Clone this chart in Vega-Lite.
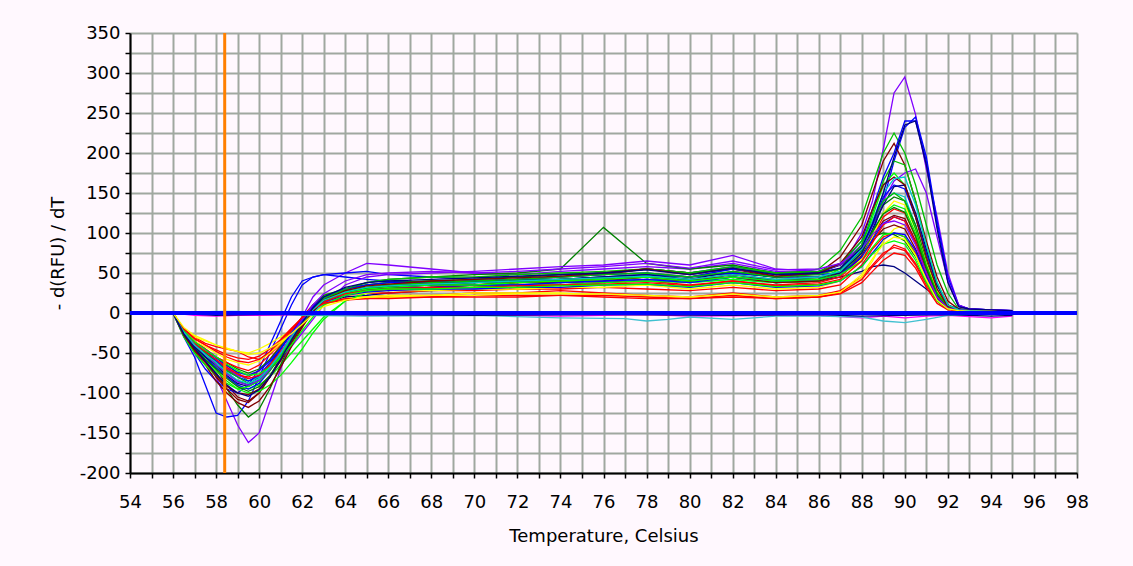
{
"$schema": "https://vega.github.io/schema/vega-lite/v6.json",
"width": 947, "height": 440,
"autosize": "none",
"padding": {"left": 130, "top": 33, "right": 56, "bottom": 93},
"background": "#FFF8FE",
"config": {"view": {"stroke": null},
 "axis": {"domainColor": "#000000", "domainWidth": 2, "tickColor": "#000000", "tickWidth": 1.5, "tickSize": 5,
  "labelFont": "DejaVu Sans", "labelFontSize": 18, "labelColor": "#000000", "titleFont": "DejaVu Sans", "titleFontSize": 18,
  "titleFontWeight": "normal", "titleColor": "#000000", "gridColor": "#A0A8A0", "gridWidth": 2, "gridOpacity": 1, "labelOverlap": false, "labelFlush": false}},
"datasets": {"curves": [
{"s":"A","t":56,"v":0},{"s":"A","t":56.5,"v":-25},{"s":"A","t":57,"v":-45},{"s":"A","t":57.5,"v":-60},{"s":"A","t":58,"v":-80},{"s":"A","t":58.5,"v":-110},{"s":"A","t":59,"v":-140},{"s":"A","t":59.5,"v":-162},{"s":"A","t":60,"v":-150},{"s":"A","t":60.5,"v":-110},{"s":"A","t":61,"v":-70},{"s":"A","t":61.5,"v":-35},{"s":"A","t":62,"v":-5},{"s":"A","t":62.5,"v":20},{"s":"A","t":63,"v":35},{"s":"A","t":64,"v":50},{"s":"A","t":65,"v":62},{"s":"A","t":66,"v":60},{"s":"A","t":68,"v":55},{"s":"A","t":70,"v":50},{"s":"A","t":72,"v":48},{"s":"A","t":74,"v":52},{"s":"A","t":76,"v":55},{"s":"A","t":78,"v":58},{"s":"A","t":80,"v":55},{"s":"A","t":82,"v":62},{"s":"A","t":84,"v":52},{"s":"A","t":86,"v":50},{"s":"A","t":87,"v":55},{"s":"A","t":88,"v":100},{"s":"A","t":88.5,"v":140},{"s":"A","t":89,"v":205},{"s":"A","t":89.5,"v":275},{"s":"A","t":90,"v":295},{"s":"A","t":90.5,"v":248},{"s":"A","t":91,"v":180},{"s":"A","t":91.5,"v":120},{"s":"A","t":92,"v":50},{"s":"A","t":92.5,"v":10},{"s":"A","t":93,"v":5},{"s":"A","t":94,"v":4},{"s":"A","t":95,"v":3},
{"s":"B","t":56,"v":0},{"s":"B","t":56.5,"v":-30},{"s":"B","t":57,"v":-55},{"s":"B","t":57.5,"v":-90},{"s":"B","t":58,"v":-125},{"s":"B","t":58.5,"v":-130},{"s":"B","t":59,"v":-128},{"s":"B","t":59.5,"v":-110},{"s":"B","t":60,"v":-80},{"s":"B","t":60.5,"v":-50},{"s":"B","t":61,"v":-20},{"s":"B","t":61.5,"v":10},{"s":"B","t":62,"v":35},{"s":"B","t":62.5,"v":45},{"s":"B","t":63,"v":48},{"s":"B","t":64,"v":50},{"s":"B","t":65,"v":52},{"s":"B","t":66,"v":48},{"s":"B","t":68,"v":45},{"s":"B","t":70,"v":42},{"s":"B","t":72,"v":45},{"s":"B","t":74,"v":48},{"s":"B","t":76,"v":50},{"s":"B","t":78,"v":55},{"s":"B","t":80,"v":50},{"s":"B","t":82,"v":58},{"s":"B","t":84,"v":50},{"s":"B","t":86,"v":48},{"s":"B","t":87,"v":50},{"s":"B","t":88,"v":75},{"s":"B","t":88.5,"v":100},{"s":"B","t":89,"v":140},{"s":"B","t":89.5,"v":190},{"s":"B","t":90,"v":232},{"s":"B","t":90.5,"v":245},{"s":"B","t":91,"v":195},{"s":"B","t":91.5,"v":115},{"s":"B","t":92,"v":45},{"s":"B","t":92.5,"v":10},{"s":"B","t":93,"v":5},{"s":"B","t":94,"v":4},{"s":"B","t":95,"v":3},
{"s":"C","t":56,"v":0},{"s":"C","t":56.5,"v":-22},{"s":"C","t":57,"v":-35},{"s":"C","t":57.5,"v":-45},{"s":"C","t":58,"v":-55},{"s":"C","t":58.5,"v":-65},{"s":"C","t":59,"v":-75},{"s":"C","t":59.5,"v":-85},{"s":"C","t":60,"v":-80},{"s":"C","t":60.5,"v":-65},{"s":"C","t":61,"v":-45},{"s":"C","t":61.5,"v":-25},{"s":"C","t":62,"v":-5},{"s":"C","t":62.5,"v":10},{"s":"C","t":63,"v":20},{"s":"C","t":64,"v":30},{"s":"C","t":65,"v":35},{"s":"C","t":66,"v":38},{"s":"C","t":68,"v":40},{"s":"C","t":70,"v":38},{"s":"C","t":72,"v":40},{"s":"C","t":74,"v":42},{"s":"C","t":76,"v":45},{"s":"C","t":78,"v":48},{"s":"C","t":80,"v":45},{"s":"C","t":82,"v":50},{"s":"C","t":84,"v":45},{"s":"C","t":86,"v":55},{"s":"C","t":87,"v":78},{"s":"C","t":88,"v":120},{"s":"C","t":88.5,"v":160},{"s":"C","t":89,"v":200},{"s":"C","t":89.5,"v":225},{"s":"C","t":90,"v":200},{"s":"C","t":90.5,"v":160},{"s":"C","t":91,"v":110},{"s":"C","t":91.5,"v":60},{"s":"C","t":92,"v":25},{"s":"C","t":92.5,"v":5},{"s":"C","t":93,"v":4},{"s":"C","t":94,"v":3},{"s":"C","t":95,"v":2},
{"s":"D","t":56,"v":0},{"s":"D","t":56.5,"v":-25},{"s":"D","t":57,"v":-40},{"s":"D","t":57.5,"v":-55},{"s":"D","t":58,"v":-70},{"s":"D","t":58.5,"v":-90},{"s":"D","t":59,"v":-105},{"s":"D","t":59.5,"v":-110},{"s":"D","t":60,"v":-100},{"s":"D","t":60.5,"v":-80},{"s":"D","t":61,"v":-55},{"s":"D","t":61.5,"v":-30},{"s":"D","t":62,"v":-10},{"s":"D","t":62.5,"v":8},{"s":"D","t":63,"v":18},{"s":"D","t":64,"v":28},{"s":"D","t":65,"v":32},{"s":"D","t":66,"v":35},{"s":"D","t":68,"v":38},{"s":"D","t":70,"v":40},{"s":"D","t":72,"v":42},{"s":"D","t":74,"v":45},{"s":"D","t":76,"v":48},{"s":"D","t":78,"v":55},{"s":"D","t":80,"v":50},{"s":"D","t":82,"v":55},{"s":"D","t":84,"v":45},{"s":"D","t":86,"v":50},{"s":"D","t":87,"v":70},{"s":"D","t":88,"v":110},{"s":"D","t":88.5,"v":150},{"s":"D","t":89,"v":190},{"s":"D","t":89.5,"v":212},{"s":"D","t":90,"v":185},{"s":"D","t":90.5,"v":140},{"s":"D","t":91,"v":90},{"s":"D","t":91.5,"v":45},{"s":"D","t":92,"v":15},{"s":"D","t":92.5,"v":5},{"s":"D","t":93,"v":4},{"s":"D","t":94,"v":3},{"s":"D","t":95,"v":2},
{"s":"E","t":56,"v":0},{"s":"E","t":56.5,"v":-25},{"s":"E","t":57,"v":-40},{"s":"E","t":57.5,"v":-50},{"s":"E","t":58,"v":-65},{"s":"E","t":58.5,"v":-75},{"s":"E","t":59,"v":-85},{"s":"E","t":59.5,"v":-90},{"s":"E","t":60,"v":-80},{"s":"E","t":60.5,"v":-65},{"s":"E","t":61,"v":-45},{"s":"E","t":61.5,"v":-25},{"s":"E","t":62,"v":-8},{"s":"E","t":62.5,"v":5},{"s":"E","t":63,"v":12},{"s":"E","t":64,"v":20},{"s":"E","t":65,"v":22},{"s":"E","t":66,"v":25},{"s":"E","t":68,"v":28},{"s":"E","t":70,"v":30},{"s":"E","t":72,"v":32},{"s":"E","t":74,"v":35},{"s":"E","t":76,"v":38},{"s":"E","t":78,"v":42},{"s":"E","t":80,"v":40},{"s":"E","t":82,"v":45},{"s":"E","t":84,"v":38},{"s":"E","t":86,"v":40},{"s":"E","t":87,"v":45},{"s":"E","t":88,"v":52},{"s":"E","t":88.5,"v":58},{"s":"E","t":89,"v":60},{"s":"E","t":89.5,"v":58},{"s":"E","t":90,"v":50},{"s":"E","t":90.5,"v":40},{"s":"E","t":91,"v":30},{"s":"E","t":91.5,"v":20},{"s":"E","t":92,"v":10},{"s":"E","t":92.5,"v":5},{"s":"E","t":93,"v":3},{"s":"E","t":94,"v":2},{"s":"E","t":95,"v":1},
{"s":"F","t":56,"v":0},{"s":"F","t":56.5,"v":-20},{"s":"F","t":57,"v":-30},{"s":"F","t":57.5,"v":-38},{"s":"F","t":58,"v":-42},{"s":"F","t":58.5,"v":-45},{"s":"F","t":59,"v":-48},{"s":"F","t":59.5,"v":-55},{"s":"F","t":60,"v":-58},{"s":"F","t":60.5,"v":-50},{"s":"F","t":61,"v":-38},{"s":"F","t":61.5,"v":-22},{"s":"F","t":62,"v":-8},{"s":"F","t":62.5,"v":5},{"s":"F","t":63,"v":12},{"s":"F","t":64,"v":18},{"s":"F","t":65,"v":20},{"s":"F","t":66,"v":22},{"s":"F","t":68,"v":22},{"s":"F","t":70,"v":25},{"s":"F","t":72,"v":25},{"s":"F","t":74,"v":28},{"s":"F","t":76,"v":25},{"s":"F","t":78,"v":22},{"s":"F","t":80,"v":20},{"s":"F","t":82,"v":25},{"s":"F","t":84,"v":20},{"s":"F","t":86,"v":22},{"s":"F","t":87,"v":28},{"s":"F","t":88,"v":45},{"s":"F","t":88.5,"v":60},{"s":"F","t":89,"v":75},{"s":"F","t":89.5,"v":82},{"s":"F","t":90,"v":78},{"s":"F","t":90.5,"v":60},{"s":"F","t":91,"v":35},{"s":"F","t":91.5,"v":15},{"s":"F","t":92,"v":5},{"s":"F","t":92.5,"v":3},{"s":"F","t":93,"v":2},{"s":"F","t":94,"v":2},{"s":"F","t":95,"v":1},
{"s":"G","t":56,"v":0},{"s":"G","t":56.5,"v":-25},{"s":"G","t":57,"v":-45},{"s":"G","t":57.5,"v":-55},{"s":"G","t":58,"v":-65},{"s":"G","t":58.5,"v":-80},{"s":"G","t":59,"v":-90},{"s":"G","t":59.5,"v":-95},{"s":"G","t":60,"v":-90},{"s":"G","t":60.5,"v":-80},{"s":"G","t":61,"v":-65},{"s":"G","t":61.5,"v":-50},{"s":"G","t":62,"v":-35},{"s":"G","t":62.5,"v":-20},{"s":"G","t":63,"v":-5},{"s":"G","t":64,"v":15},{"s":"G","t":65,"v":25},{"s":"G","t":66,"v":30},{"s":"G","t":68,"v":32},{"s":"G","t":70,"v":35},{"s":"G","t":72,"v":38},{"s":"G","t":74,"v":40},{"s":"G","t":76,"v":42},{"s":"G","t":78,"v":45},{"s":"G","t":80,"v":40},{"s":"G","t":82,"v":45},{"s":"G","t":84,"v":40},{"s":"G","t":86,"v":42},{"s":"G","t":87,"v":55},{"s":"G","t":88,"v":85},{"s":"G","t":88.5,"v":120},{"s":"G","t":89,"v":160},{"s":"G","t":89.5,"v":175},{"s":"G","t":90,"v":160},{"s":"G","t":90.5,"v":120},{"s":"G","t":91,"v":75},{"s":"G","t":91.5,"v":35},{"s":"G","t":92,"v":10},{"s":"G","t":92.5,"v":4},{"s":"G","t":93,"v":3},{"s":"G","t":94,"v":2},{"s":"G","t":95,"v":1},
{"s":"H","t":56,"v":0},{"s":"H","t":56.5,"v":-20},{"s":"H","t":57,"v":-30},{"s":"H","t":57.5,"v":-35},{"s":"H","t":58,"v":-40},{"s":"H","t":58.5,"v":-45},{"s":"H","t":59,"v":-48},{"s":"H","t":59.5,"v":-50},{"s":"H","t":60,"v":-45},{"s":"H","t":60.5,"v":-38},{"s":"H","t":61,"v":-30},{"s":"H","t":61.5,"v":-22},{"s":"H","t":62,"v":-10},{"s":"H","t":62.5,"v":0},{"s":"H","t":63,"v":10},{"s":"H","t":64,"v":18},{"s":"H","t":65,"v":20},{"s":"H","t":66,"v":22},{"s":"H","t":68,"v":22},{"s":"H","t":70,"v":25},{"s":"H","t":72,"v":25},{"s":"H","t":74,"v":25},{"s":"H","t":76,"v":22},{"s":"H","t":78,"v":20},{"s":"H","t":80,"v":18},{"s":"H","t":82,"v":22},{"s":"H","t":84,"v":18},{"s":"H","t":86,"v":20},{"s":"H","t":87,"v":25},{"s":"H","t":88,"v":45},{"s":"H","t":88.5,"v":65},{"s":"H","t":89,"v":90},{"s":"H","t":89.5,"v":105},{"s":"H","t":90,"v":110},{"s":"H","t":90.5,"v":90},{"s":"H","t":91,"v":55},{"s":"H","t":91.5,"v":25},{"s":"H","t":92,"v":8},{"s":"H","t":92.5,"v":4},{"s":"H","t":93,"v":3},{"s":"H","t":94,"v":2},{"s":"H","t":95,"v":1},
{"s":"I","t":56,"v":0},{"s":"I","t":56.5,"v":-22},{"s":"I","t":57,"v":-38},{"s":"I","t":57.5,"v":-48},{"s":"I","t":58,"v":-58},{"s":"I","t":58.5,"v":-70},{"s":"I","t":59,"v":-80},{"s":"I","t":59.5,"v":-85},{"s":"I","t":60,"v":-80},{"s":"I","t":60.5,"v":-65},{"s":"I","t":61,"v":-50},{"s":"I","t":61.5,"v":-32},{"s":"I","t":62,"v":-15},{"s":"I","t":62.5,"v":0},{"s":"I","t":63,"v":12},{"s":"I","t":64,"v":22},{"s":"I","t":65,"v":28},{"s":"I","t":66,"v":30},{"s":"I","t":68,"v":32},{"s":"I","t":70,"v":35},{"s":"I","t":72,"v":35},{"s":"I","t":74,"v":38},{"s":"I","t":76,"v":40},{"s":"I","t":78,"v":42},{"s":"I","t":80,"v":38},{"s":"I","t":82,"v":42},{"s":"I","t":84,"v":38},{"s":"I","t":86,"v":40},{"s":"I","t":87,"v":50},{"s":"I","t":88,"v":80},{"s":"I","t":88.5,"v":110},{"s":"I","t":89,"v":140},{"s":"I","t":89.5,"v":150},{"s":"I","t":90,"v":145},{"s":"I","t":90.5,"v":110},{"s":"I","t":91,"v":65},{"s":"I","t":91.5,"v":30},{"s":"I","t":92,"v":8},{"s":"I","t":92.5,"v":4},{"s":"I","t":93,"v":3},{"s":"I","t":94,"v":2},{"s":"I","t":95,"v":1},
{"s":"J","t":56,"v":0},{"s":"J","t":56.5,"v":-28},{"s":"J","t":57,"v":-50},{"s":"J","t":57.5,"v":-70},{"s":"J","t":58,"v":-85},{"s":"J","t":58.5,"v":-95},{"s":"J","t":59,"v":-100},{"s":"J","t":59.5,"v":-90},{"s":"J","t":60,"v":-70},{"s":"J","t":60.5,"v":-40},{"s":"J","t":61,"v":-10},{"s":"J","t":61.5,"v":20},{"s":"J","t":62,"v":40},{"s":"J","t":62.5,"v":45},{"s":"J","t":63,"v":48},{"s":"J","t":64,"v":45},{"s":"J","t":65,"v":42},{"s":"J","t":66,"v":40},{"s":"J","t":68,"v":38},{"s":"J","t":70,"v":40},{"s":"J","t":72,"v":42},{"s":"J","t":74,"v":42},{"s":"J","t":76,"v":45},{"s":"J","t":78,"v":48},{"s":"J","t":80,"v":45},{"s":"J","t":82,"v":50},{"s":"J","t":84,"v":45},{"s":"J","t":86,"v":50},{"s":"J","t":87,"v":60},{"s":"J","t":88,"v":90},{"s":"J","t":88.5,"v":130},{"s":"J","t":89,"v":170},{"s":"J","t":89.5,"v":200},{"s":"J","t":90,"v":240},{"s":"J","t":90.5,"v":240},{"s":"J","t":91,"v":190},{"s":"J","t":91.5,"v":110},{"s":"J","t":92,"v":40},{"s":"J","t":92.5,"v":8},{"s":"J","t":93,"v":5},{"s":"J","t":94,"v":4},{"s":"J","t":95,"v":3},
{"s":"K","t":56,"v":0},{"s":"K","t":56.5,"v":-25},{"s":"K","t":57,"v":-40},{"s":"K","t":57.5,"v":-50},{"s":"K","t":58,"v":-60},{"s":"K","t":58.5,"v":-70},{"s":"K","t":59,"v":-78},{"s":"K","t":59.5,"v":-80},{"s":"K","t":60,"v":-72},{"s":"K","t":60.5,"v":-58},{"s":"K","t":61,"v":-40},{"s":"K","t":61.5,"v":-22},{"s":"K","t":62,"v":-5},{"s":"K","t":62.5,"v":10},{"s":"K","t":63,"v":20},{"s":"K","t":64,"v":28},{"s":"K","t":65,"v":30},{"s":"K","t":66,"v":32},{"s":"K","t":68,"v":30},{"s":"K","t":70,"v":32},{"s":"K","t":72,"v":35},{"s":"K","t":74,"v":35},{"s":"K","t":76,"v":38},{"s":"K","t":78,"v":40},{"s":"K","t":80,"v":35},{"s":"K","t":82,"v":40},{"s":"K","t":84,"v":35},{"s":"K","t":86,"v":38},{"s":"K","t":87,"v":45},{"s":"K","t":88,"v":70},{"s":"K","t":88.5,"v":95},{"s":"K","t":89,"v":120},{"s":"K","t":89.5,"v":130},{"s":"K","t":90,"v":125},{"s":"K","t":90.5,"v":95},{"s":"K","t":91,"v":55},{"s":"K","t":91.5,"v":22},{"s":"K","t":92,"v":6},{"s":"K","t":92.5,"v":4},{"s":"K","t":93,"v":3},{"s":"K","t":94,"v":2},{"s":"K","t":95,"v":1},
{"s":"L","t":56,"v":0},{"s":"L","t":56.5,"v":-25},{"s":"L","t":57,"v":-45},{"s":"L","t":57.5,"v":-60},{"s":"L","t":58,"v":-75},{"s":"L","t":58.5,"v":-95},{"s":"L","t":59,"v":-115},{"s":"L","t":59.5,"v":-130},{"s":"L","t":60,"v":-120},{"s":"L","t":60.5,"v":-95},{"s":"L","t":61,"v":-65},{"s":"L","t":61.5,"v":-35},{"s":"L","t":62,"v":-10},{"s":"L","t":62.5,"v":10},{"s":"L","t":63,"v":22},{"s":"L","t":64,"v":30},{"s":"L","t":65,"v":35},{"s":"L","t":66,"v":38},{"s":"L","t":68,"v":40},{"s":"L","t":70,"v":42},{"s":"L","t":72,"v":45},{"s":"L","t":74,"v":48},{"s":"L","t":76,"v":50},{"s":"L","t":78,"v":55},{"s":"L","t":80,"v":50},{"s":"L","t":82,"v":55},{"s":"L","t":84,"v":50},{"s":"L","t":86,"v":52},{"s":"L","t":87,"v":60},{"s":"L","t":88,"v":80},{"s":"L","t":88.5,"v":95},{"s":"L","t":89,"v":100},{"s":"L","t":89.5,"v":98},{"s":"L","t":90,"v":90},{"s":"L","t":90.5,"v":70},{"s":"L","t":91,"v":45},{"s":"L","t":91.5,"v":20},{"s":"L","t":92,"v":6},{"s":"L","t":92.5,"v":4},{"s":"L","t":93,"v":3},{"s":"L","t":94,"v":2},{"s":"L","t":95,"v":1},
{"s":"M","t":56,"v":0},{"s":"M","t":56.5,"v":-22},{"s":"M","t":57,"v":-38},{"s":"M","t":57.5,"v":-48},{"s":"M","t":58,"v":-55},{"s":"M","t":58.5,"v":-62},{"s":"M","t":59,"v":-70},{"s":"M","t":59.5,"v":-75},{"s":"M","t":60,"v":-70},{"s":"M","t":60.5,"v":-58},{"s":"M","t":61,"v":-42},{"s":"M","t":61.5,"v":-25},{"s":"M","t":62,"v":-8},{"s":"M","t":62.5,"v":8},{"s":"M","t":63,"v":18},{"s":"M","t":64,"v":30},{"s":"M","t":65,"v":38},{"s":"M","t":66,"v":42},{"s":"M","t":68,"v":45},{"s":"M","t":70,"v":48},{"s":"M","t":72,"v":50},{"s":"M","t":74,"v":55},{"s":"M","t":76,"v":107},{"s":"M","t":78,"v":62},{"s":"M","t":80,"v":55},{"s":"M","t":82,"v":60},{"s":"M","t":84,"v":50},{"s":"M","t":86,"v":52},{"s":"M","t":87,"v":60},{"s":"M","t":88,"v":85},{"s":"M","t":88.5,"v":110},{"s":"M","t":89,"v":135},{"s":"M","t":89.5,"v":145},{"s":"M","t":90,"v":140},{"s":"M","t":90.5,"v":110},{"s":"M","t":91,"v":65},{"s":"M","t":91.5,"v":28},{"s":"M","t":92,"v":8},{"s":"M","t":92.5,"v":4},{"s":"M","t":93,"v":3},{"s":"M","t":94,"v":2},{"s":"M","t":95,"v":1},
{"s":"N","t":56,"v":0},{"s":"N","t":56.5,"v":-22},{"s":"N","t":57,"v":-35},{"s":"N","t":57.5,"v":-45},{"s":"N","t":58,"v":-55},{"s":"N","t":58.5,"v":-68},{"s":"N","t":59,"v":-78},{"s":"N","t":59.5,"v":-82},{"s":"N","t":60,"v":-78},{"s":"N","t":60.5,"v":-70},{"s":"N","t":61,"v":-58},{"s":"N","t":61.5,"v":-42},{"s":"N","t":62,"v":-25},{"s":"N","t":62.5,"v":-8},{"s":"N","t":63,"v":10},{"s":"N","t":64,"v":35},{"s":"N","t":65,"v":45},{"s":"N","t":66,"v":48},{"s":"N","t":68,"v":50},{"s":"N","t":70,"v":52},{"s":"N","t":72,"v":55},{"s":"N","t":74,"v":58},{"s":"N","t":76,"v":60},{"s":"N","t":78,"v":65},{"s":"N","t":80,"v":60},{"s":"N","t":82,"v":72},{"s":"N","t":84,"v":55},{"s":"N","t":86,"v":52},{"s":"N","t":87,"v":60},{"s":"N","t":88,"v":85},{"s":"N","t":88.5,"v":110},{"s":"N","t":89,"v":140},{"s":"N","t":89.5,"v":165},{"s":"N","t":90,"v":175},{"s":"N","t":90.5,"v":180},{"s":"N","t":91,"v":150},{"s":"N","t":91.5,"v":95},{"s":"N","t":92,"v":40},{"s":"N","t":92.5,"v":10},{"s":"N","t":93,"v":5},{"s":"N","t":94,"v":4},{"s":"N","t":95,"v":3},
{"s":"O","t":56,"v":0},{"s":"O","t":56.5,"v":-25},{"s":"O","t":57,"v":-45},{"s":"O","t":57.5,"v":-60},{"s":"O","t":58,"v":-80},{"s":"O","t":58.5,"v":-95},{"s":"O","t":59,"v":-108},{"s":"O","t":59.5,"v":-112},{"s":"O","t":60,"v":-100},{"s":"O","t":60.5,"v":-80},{"s":"O","t":61,"v":-58},{"s":"O","t":61.5,"v":-35},{"s":"O","t":62,"v":-15},{"s":"O","t":62.5,"v":2},{"s":"O","t":63,"v":15},{"s":"O","t":64,"v":25},{"s":"O","t":65,"v":30},{"s":"O","t":66,"v":32},{"s":"O","t":68,"v":35},{"s":"O","t":70,"v":35},{"s":"O","t":72,"v":38},{"s":"O","t":74,"v":40},{"s":"O","t":76,"v":42},{"s":"O","t":78,"v":45},{"s":"O","t":80,"v":40},{"s":"O","t":82,"v":48},{"s":"O","t":84,"v":40},{"s":"O","t":86,"v":42},{"s":"O","t":87,"v":50},{"s":"O","t":88,"v":72},{"s":"O","t":88.5,"v":95},{"s":"O","t":89,"v":115},{"s":"O","t":89.5,"v":122},{"s":"O","t":90,"v":118},{"s":"O","t":90.5,"v":90},{"s":"O","t":91,"v":55},{"s":"O","t":91.5,"v":22},{"s":"O","t":92,"v":6},{"s":"O","t":92.5,"v":4},{"s":"O","t":93,"v":3},{"s":"O","t":94,"v":2},{"s":"O","t":95,"v":1},
{"s":"P","t":56,"v":0},{"s":"P","t":56.5,"v":-25},{"s":"P","t":57,"v":-42},{"s":"P","t":57.5,"v":-55},{"s":"P","t":58,"v":-68},{"s":"P","t":58.5,"v":-80},{"s":"P","t":59,"v":-90},{"s":"P","t":59.5,"v":-95},{"s":"P","t":60,"v":-88},{"s":"P","t":60.5,"v":-72},{"s":"P","t":61,"v":-52},{"s":"P","t":61.5,"v":-30},{"s":"P","t":62,"v":-10},{"s":"P","t":62.5,"v":8},{"s":"P","t":63,"v":20},{"s":"P","t":64,"v":30},{"s":"P","t":65,"v":35},{"s":"P","t":66,"v":38},{"s":"P","t":68,"v":38},{"s":"P","t":70,"v":40},{"s":"P","t":72,"v":42},{"s":"P","t":74,"v":45},{"s":"P","t":76,"v":48},{"s":"P","t":78,"v":50},{"s":"P","t":80,"v":45},{"s":"P","t":82,"v":55},{"s":"P","t":84,"v":48},{"s":"P","t":86,"v":50},{"s":"P","t":87,"v":55},{"s":"P","t":88,"v":80},{"s":"P","t":88.5,"v":110},{"s":"P","t":89,"v":145},{"s":"P","t":89.5,"v":160},{"s":"P","t":90,"v":155},{"s":"P","t":90.5,"v":120},{"s":"P","t":91,"v":75},{"s":"P","t":91.5,"v":35},{"s":"P","t":92,"v":10},{"s":"P","t":92.5,"v":4},{"s":"P","t":93,"v":3},{"s":"P","t":94,"v":2},{"s":"P","t":95,"v":1},
{"s":"Q","t":56,"v":0},{"s":"Q","t":56.5,"v":-22},{"s":"Q","t":57,"v":-35},{"s":"Q","t":57.5,"v":-45},{"s":"Q","t":58,"v":-55},{"s":"Q","t":58.5,"v":-62},{"s":"Q","t":59,"v":-68},{"s":"Q","t":59.5,"v":-72},{"s":"Q","t":60,"v":-65},{"s":"Q","t":60.5,"v":-52},{"s":"Q","t":61,"v":-38},{"s":"Q","t":61.5,"v":-22},{"s":"Q","t":62,"v":-8},{"s":"Q","t":62.5,"v":5},{"s":"Q","t":63,"v":15},{"s":"Q","t":64,"v":22},{"s":"Q","t":65,"v":25},{"s":"Q","t":66,"v":25},{"s":"Q","t":68,"v":28},{"s":"Q","t":70,"v":28},{"s":"Q","t":72,"v":30},{"s":"Q","t":74,"v":30},{"s":"Q","t":76,"v":32},{"s":"Q","t":78,"v":30},{"s":"Q","t":80,"v":28},{"s":"Q","t":82,"v":32},{"s":"Q","t":84,"v":28},{"s":"Q","t":86,"v":30},{"s":"Q","t":87,"v":35},{"s":"Q","t":88,"v":60},{"s":"Q","t":88.5,"v":80},{"s":"Q","t":89,"v":95},{"s":"Q","t":89.5,"v":100},{"s":"Q","t":90,"v":95},{"s":"Q","t":90.5,"v":75},{"s":"Q","t":91,"v":45},{"s":"Q","t":91.5,"v":18},{"s":"Q","t":92,"v":5},{"s":"Q","t":92.5,"v":3},{"s":"Q","t":93,"v":2},{"s":"Q","t":94,"v":2},{"s":"Q","t":95,"v":1},
{"s":"R","t":56,"v":0},{"s":"R","t":56.5,"v":-25},{"s":"R","t":57,"v":-42},{"s":"R","t":57.5,"v":-58},{"s":"R","t":58,"v":-72},{"s":"R","t":58.5,"v":-85},{"s":"R","t":59,"v":-95},{"s":"R","t":59.5,"v":-100},{"s":"R","t":60,"v":-98},{"s":"R","t":60.5,"v":-90},{"s":"R","t":61,"v":-78},{"s":"R","t":61.5,"v":-62},{"s":"R","t":62,"v":-45},{"s":"R","t":62.5,"v":-25},{"s":"R","t":63,"v":-8},{"s":"R","t":64,"v":15},{"s":"R","t":65,"v":25},{"s":"R","t":66,"v":30},{"s":"R","t":68,"v":32},{"s":"R","t":70,"v":32},{"s":"R","t":72,"v":35},{"s":"R","t":74,"v":35},{"s":"R","t":76,"v":38},{"s":"R","t":78,"v":40},{"s":"R","t":80,"v":38},{"s":"R","t":82,"v":42},{"s":"R","t":84,"v":38},{"s":"R","t":86,"v":40},{"s":"R","t":87,"v":48},{"s":"R","t":88,"v":75},{"s":"R","t":88.5,"v":100},{"s":"R","t":89,"v":125},{"s":"R","t":89.5,"v":135},{"s":"R","t":90,"v":130},{"s":"R","t":90.5,"v":100},{"s":"R","t":91,"v":60},{"s":"R","t":91.5,"v":25},{"s":"R","t":92,"v":8},{"s":"R","t":92.5,"v":4},{"s":"R","t":93,"v":3},{"s":"R","t":94,"v":2},{"s":"R","t":95,"v":1},
{"s":"S","t":56,"v":0},{"s":"S","t":56.5,"v":-25},{"s":"S","t":57,"v":-42},{"s":"S","t":57.5,"v":-55},{"s":"S","t":58,"v":-65},{"s":"S","t":58.5,"v":-78},{"s":"S","t":59,"v":-88},{"s":"S","t":59.5,"v":-92},{"s":"S","t":60,"v":-85},{"s":"S","t":60.5,"v":-70},{"s":"S","t":61,"v":-50},{"s":"S","t":61.5,"v":-30},{"s":"S","t":62,"v":-12},{"s":"S","t":62.5,"v":5},{"s":"S","t":63,"v":18},{"s":"S","t":64,"v":28},{"s":"S","t":65,"v":30},{"s":"S","t":66,"v":32},{"s":"S","t":68,"v":35},{"s":"S","t":70,"v":38},{"s":"S","t":72,"v":40},{"s":"S","t":74,"v":42},{"s":"S","t":76,"v":45},{"s":"S","t":78,"v":48},{"s":"S","t":80,"v":42},{"s":"S","t":82,"v":52},{"s":"S","t":84,"v":45},{"s":"S","t":86,"v":45},{"s":"S","t":87,"v":50},{"s":"S","t":88,"v":75},{"s":"S","t":88.5,"v":105},{"s":"S","t":89,"v":135},{"s":"S","t":89.5,"v":158},{"s":"S","t":90,"v":160},{"s":"S","t":90.5,"v":125},{"s":"S","t":91,"v":80},{"s":"S","t":91.5,"v":35},{"s":"S","t":92,"v":10},{"s":"S","t":92.5,"v":4},{"s":"S","t":93,"v":3},{"s":"S","t":94,"v":2},{"s":"S","t":95,"v":1},
{"s":"T","t":56,"v":0},{"s":"T","t":56.5,"v":-28},{"s":"T","t":57,"v":-48},{"s":"T","t":57.5,"v":-65},{"s":"T","t":58,"v":-85},{"s":"T","t":58.5,"v":-100},{"s":"T","t":59,"v":-112},{"s":"T","t":59.5,"v":-118},{"s":"T","t":60,"v":-110},{"s":"T","t":60.5,"v":-92},{"s":"T","t":61,"v":-68},{"s":"T","t":61.5,"v":-42},{"s":"T","t":62,"v":-18},{"s":"T","t":62.5,"v":2},{"s":"T","t":63,"v":15},{"s":"T","t":64,"v":25},{"s":"T","t":65,"v":28},{"s":"T","t":66,"v":30},{"s":"T","t":68,"v":32},{"s":"T","t":70,"v":35},{"s":"T","t":72,"v":38},{"s":"T","t":74,"v":38},{"s":"T","t":76,"v":40},{"s":"T","t":78,"v":45},{"s":"T","t":80,"v":40},{"s":"T","t":82,"v":45},{"s":"T","t":84,"v":38},{"s":"T","t":86,"v":40},{"s":"T","t":87,"v":48},{"s":"T","t":88,"v":70},{"s":"T","t":88.5,"v":90},{"s":"T","t":89,"v":105},{"s":"T","t":89.5,"v":110},{"s":"T","t":90,"v":105},{"s":"T","t":90.5,"v":80},{"s":"T","t":91,"v":48},{"s":"T","t":91.5,"v":20},{"s":"T","t":92,"v":6},{"s":"T","t":92.5,"v":4},{"s":"T","t":93,"v":3},{"s":"T","t":94,"v":2},{"s":"T","t":95,"v":1},
{"s":"U","t":56,"v":0},{"s":"U","t":56.5,"v":-22},{"s":"U","t":57,"v":-35},{"s":"U","t":57.5,"v":-42},{"s":"U","t":58,"v":-50},{"s":"U","t":58.5,"v":-58},{"s":"U","t":59,"v":-62},{"s":"U","t":59.5,"v":-65},{"s":"U","t":60,"v":-60},{"s":"U","t":60.5,"v":-50},{"s":"U","t":61,"v":-38},{"s":"U","t":61.5,"v":-25},{"s":"U","t":62,"v":-10},{"s":"U","t":62.5,"v":5},{"s":"U","t":63,"v":15},{"s":"U","t":64,"v":22},{"s":"U","t":65,"v":25},{"s":"U","t":66,"v":28},{"s":"U","t":68,"v":28},{"s":"U","t":70,"v":30},{"s":"U","t":72,"v":30},{"s":"U","t":74,"v":32},{"s":"U","t":76,"v":32},{"s":"U","t":78,"v":35},{"s":"U","t":80,"v":30},{"s":"U","t":82,"v":35},{"s":"U","t":84,"v":30},{"s":"U","t":86,"v":32},{"s":"U","t":87,"v":40},{"s":"U","t":88,"v":68},{"s":"U","t":88.5,"v":95},{"s":"U","t":89,"v":125},{"s":"U","t":89.5,"v":140},{"s":"U","t":90,"v":135},{"s":"U","t":90.5,"v":105},{"s":"U","t":91,"v":62},{"s":"U","t":91.5,"v":28},{"s":"U","t":92,"v":8},{"s":"U","t":92.5,"v":4},{"s":"U","t":93,"v":3},{"s":"U","t":94,"v":2},{"s":"U","t":95,"v":1},
{"s":"V","t":56,"v":0},{"s":"V","t":56.5,"v":-25},{"s":"V","t":57,"v":-40},{"s":"V","t":57.5,"v":-52},{"s":"V","t":58,"v":-65},{"s":"V","t":58.5,"v":-75},{"s":"V","t":59,"v":-85},{"s":"V","t":59.5,"v":-90},{"s":"V","t":60,"v":-85},{"s":"V","t":60.5,"v":-72},{"s":"V","t":61,"v":-55},{"s":"V","t":61.5,"v":-35},{"s":"V","t":62,"v":-15},{"s":"V","t":62.5,"v":5},{"s":"V","t":63,"v":18},{"s":"V","t":64,"v":28},{"s":"V","t":65,"v":32},{"s":"V","t":66,"v":35},{"s":"V","t":68,"v":38},{"s":"V","t":70,"v":40},{"s":"V","t":72,"v":42},{"s":"V","t":74,"v":45},{"s":"V","t":76,"v":48},{"s":"V","t":78,"v":50},{"s":"V","t":80,"v":45},{"s":"V","t":82,"v":52},{"s":"V","t":84,"v":45},{"s":"V","t":86,"v":48},{"s":"V","t":87,"v":55},{"s":"V","t":88,"v":85},{"s":"V","t":88.5,"v":125},{"s":"V","t":89,"v":165},{"s":"V","t":89.5,"v":190},{"s":"V","t":90,"v":185},{"s":"V","t":90.5,"v":140},{"s":"V","t":91,"v":85},{"s":"V","t":91.5,"v":38},{"s":"V","t":92,"v":10},{"s":"V","t":92.5,"v":4},{"s":"V","t":93,"v":3},{"s":"V","t":94,"v":2},{"s":"V","t":95,"v":1},
{"s":"W","t":56,"v":0},{"s":"W","t":56.5,"v":-20},{"s":"W","t":57,"v":-32},{"s":"W","t":57.5,"v":-40},{"s":"W","t":58,"v":-48},{"s":"W","t":58.5,"v":-55},{"s":"W","t":59,"v":-60},{"s":"W","t":59.5,"v":-62},{"s":"W","t":60,"v":-58},{"s":"W","t":60.5,"v":-48},{"s":"W","t":61,"v":-35},{"s":"W","t":61.5,"v":-20},{"s":"W","t":62,"v":-6},{"s":"W","t":62.5,"v":5},{"s":"W","t":63,"v":12},{"s":"W","t":64,"v":18},{"s":"W","t":65,"v":18},{"s":"W","t":66,"v":20},{"s":"W","t":68,"v":20},{"s":"W","t":70,"v":22},{"s":"W","t":72,"v":22},{"s":"W","t":74,"v":22},{"s":"W","t":76,"v":20},{"s":"W","t":78,"v":18},{"s":"W","t":80,"v":18},{"s":"W","t":82,"v":20},{"s":"W","t":84,"v":18},{"s":"W","t":86,"v":20},{"s":"W","t":87,"v":25},{"s":"W","t":88,"v":42},{"s":"W","t":88.5,"v":58},{"s":"W","t":89,"v":72},{"s":"W","t":89.5,"v":85},{"s":"W","t":90,"v":80},{"s":"W","t":90.5,"v":62},{"s":"W","t":91,"v":38},{"s":"W","t":91.5,"v":15},{"s":"W","t":92,"v":5},{"s":"W","t":92.5,"v":3},{"s":"W","t":93,"v":2},{"s":"W","t":94,"v":2},{"s":"W","t":95,"v":1},
{"s":"X","t":56,"v":0},{"s":"X","t":56.5,"v":-25},{"s":"X","t":57,"v":-40},{"s":"X","t":57.5,"v":-50},{"s":"X","t":58,"v":-60},{"s":"X","t":58.5,"v":-72},{"s":"X","t":59,"v":-80},{"s":"X","t":59.5,"v":-85},{"s":"X","t":60,"v":-78},{"s":"X","t":60.5,"v":-62},{"s":"X","t":61,"v":-45},{"s":"X","t":61.5,"v":-25},{"s":"X","t":62,"v":-8},{"s":"X","t":62.5,"v":8},{"s":"X","t":63,"v":18},{"s":"X","t":64,"v":25},{"s":"X","t":65,"v":28},{"s":"X","t":66,"v":30},{"s":"X","t":68,"v":32},{"s":"X","t":70,"v":35},{"s":"X","t":72,"v":35},{"s":"X","t":74,"v":38},{"s":"X","t":76,"v":40},{"s":"X","t":78,"v":42},{"s":"X","t":80,"v":38},{"s":"X","t":82,"v":45},{"s":"X","t":84,"v":40},{"s":"X","t":86,"v":42},{"s":"X","t":87,"v":48},{"s":"X","t":88,"v":70},{"s":"X","t":88.5,"v":92},{"s":"X","t":89,"v":112},{"s":"X","t":89.5,"v":120},{"s":"X","t":90,"v":115},{"s":"X","t":90.5,"v":88},{"s":"X","t":91,"v":50},{"s":"X","t":91.5,"v":20},{"s":"X","t":92,"v":6},{"s":"X","t":92.5,"v":4},{"s":"X","t":93,"v":3},{"s":"X","t":94,"v":2},{"s":"X","t":95,"v":1},
{"s":"Y","t":56,"v":0},{"s":"Y","t":56.5,"v":-25},{"s":"Y","t":57,"v":-40},{"s":"Y","t":57.5,"v":-50},{"s":"Y","t":58,"v":-62},{"s":"Y","t":58.5,"v":-72},{"s":"Y","t":59,"v":-80},{"s":"Y","t":59.5,"v":-88},{"s":"Y","t":60,"v":-82},{"s":"Y","t":60.5,"v":-68},{"s":"Y","t":61,"v":-50},{"s":"Y","t":61.5,"v":-30},{"s":"Y","t":62,"v":-12},{"s":"Y","t":62.5,"v":5},{"s":"Y","t":63,"v":18},{"s":"Y","t":64,"v":30},{"s":"Y","t":65,"v":38},{"s":"Y","t":66,"v":42},{"s":"Y","t":68,"v":45},{"s":"Y","t":70,"v":45},{"s":"Y","t":72,"v":48},{"s":"Y","t":74,"v":50},{"s":"Y","t":76,"v":52},{"s":"Y","t":78,"v":55},{"s":"Y","t":80,"v":50},{"s":"Y","t":82,"v":58},{"s":"Y","t":84,"v":50},{"s":"Y","t":86,"v":52},{"s":"Y","t":87,"v":62},{"s":"Y","t":88,"v":90},{"s":"Y","t":88.5,"v":115},{"s":"Y","t":89,"v":140},{"s":"Y","t":89.5,"v":150},{"s":"Y","t":90,"v":140},{"s":"Y","t":90.5,"v":105},{"s":"Y","t":91,"v":60},{"s":"Y","t":91.5,"v":25},{"s":"Y","t":92,"v":8},{"s":"Y","t":92.5,"v":4},{"s":"Y","t":93,"v":3},{"s":"Y","t":94,"v":2},{"s":"Y","t":95,"v":1},
{"s":"Z","t":56,"v":0},{"s":"Z","t":56.5,"v":-30},{"s":"Z","t":57,"v":-50},{"s":"Z","t":57.5,"v":-65},{"s":"Z","t":58,"v":-78},{"s":"Z","t":58.5,"v":-88},{"s":"Z","t":59,"v":-95},{"s":"Z","t":59.5,"v":-92},{"s":"Z","t":60,"v":-85},{"s":"Z","t":60.5,"v":-70},{"s":"Z","t":61,"v":-52},{"s":"Z","t":61.5,"v":-32},{"s":"Z","t":62,"v":-12},{"s":"Z","t":62.5,"v":5},{"s":"Z","t":63,"v":15},{"s":"Z","t":64,"v":25},{"s":"Z","t":65,"v":30},{"s":"Z","t":66,"v":32},{"s":"Z","t":68,"v":35},{"s":"Z","t":70,"v":35},{"s":"Z","t":72,"v":38},{"s":"Z","t":74,"v":40},{"s":"Z","t":76,"v":42},{"s":"Z","t":78,"v":45},{"s":"Z","t":80,"v":40},{"s":"Z","t":82,"v":45},{"s":"Z","t":84,"v":40},{"s":"Z","t":86,"v":42},{"s":"Z","t":87,"v":48},{"s":"Z","t":88,"v":65},{"s":"Z","t":88.5,"v":82},{"s":"Z","t":89,"v":98},{"s":"Z","t":89.5,"v":100},{"s":"Z","t":90,"v":95},{"s":"Z","t":90.5,"v":72},{"s":"Z","t":91,"v":42},{"s":"Z","t":91.5,"v":16},{"s":"Z","t":92,"v":5},{"s":"Z","t":92.5,"v":3},{"s":"Z","t":93,"v":2},{"s":"Z","t":94,"v":2},{"s":"Z","t":95,"v":1},
{"s":"AA","t":56,"v":0},{"s":"AA","t":56.5,"v":-22},{"s":"AA","t":57,"v":-36},{"s":"AA","t":57.5,"v":-46},{"s":"AA","t":58,"v":-56},{"s":"AA","t":58.5,"v":-66},{"s":"AA","t":59,"v":-74},{"s":"AA","t":59.5,"v":-78},{"s":"AA","t":60,"v":-72},{"s":"AA","t":60.5,"v":-60},{"s":"AA","t":61,"v":-44},{"s":"AA","t":61.5,"v":-26},{"s":"AA","t":62,"v":-10},{"s":"AA","t":62.5,"v":4},{"s":"AA","t":63,"v":14},{"s":"AA","t":64,"v":22},{"s":"AA","t":65,"v":26},{"s":"AA","t":66,"v":28},{"s":"AA","t":68,"v":30},{"s":"AA","t":70,"v":30},{"s":"AA","t":72,"v":32},{"s":"AA","t":74,"v":32},{"s":"AA","t":76,"v":35},{"s":"AA","t":78,"v":36},{"s":"AA","t":80,"v":32},{"s":"AA","t":82,"v":38},{"s":"AA","t":84,"v":32},{"s":"AA","t":86,"v":34},{"s":"AA","t":87,"v":40},{"s":"AA","t":88,"v":58},{"s":"AA","t":88.5,"v":75},{"s":"AA","t":89,"v":92},{"s":"AA","t":89.5,"v":100},{"s":"AA","t":90,"v":98},{"s":"AA","t":90.5,"v":78},{"s":"AA","t":91,"v":45},{"s":"AA","t":91.5,"v":18},{"s":"AA","t":92,"v":5},{"s":"AA","t":92.5,"v":3},{"s":"AA","t":93,"v":2},{"s":"AA","t":94,"v":2},{"s":"AA","t":95,"v":1},
{"s":"AB","t":56,"v":0},{"s":"AB","t":56.5,"v":-24},{"s":"AB","t":57,"v":-38},{"s":"AB","t":57.5,"v":-48},{"s":"AB","t":58,"v":-58},{"s":"AB","t":58.5,"v":-68},{"s":"AB","t":59,"v":-76},{"s":"AB","t":59.5,"v":-82},{"s":"AB","t":60,"v":-78},{"s":"AB","t":60.5,"v":-65},{"s":"AB","t":61,"v":-48},{"s":"AB","t":61.5,"v":-30},{"s":"AB","t":62,"v":-12},{"s":"AB","t":62.5,"v":4},{"s":"AB","t":63,"v":14},{"s":"AB","t":64,"v":24},{"s":"AB","t":65,"v":28},{"s":"AB","t":66,"v":30},{"s":"AB","t":68,"v":32},{"s":"AB","t":70,"v":32},{"s":"AB","t":72,"v":34},{"s":"AB","t":74,"v":35},{"s":"AB","t":76,"v":36},{"s":"AB","t":78,"v":38},{"s":"AB","t":80,"v":34},{"s":"AB","t":82,"v":40},{"s":"AB","t":84,"v":34},{"s":"AB","t":86,"v":36},{"s":"AB","t":87,"v":42},{"s":"AB","t":88,"v":65},{"s":"AB","t":88.5,"v":88},{"s":"AB","t":89,"v":110},{"s":"AB","t":89.5,"v":120},{"s":"AB","t":90,"v":115},{"s":"AB","t":90.5,"v":88},{"s":"AB","t":91,"v":50},{"s":"AB","t":91.5,"v":20},{"s":"AB","t":92,"v":6},{"s":"AB","t":92.5,"v":4},{"s":"AB","t":93,"v":3},{"s":"AB","t":94,"v":2},{"s":"AB","t":95,"v":1},
{"s":"AC","t":56,"v":0},{"s":"AC","t":56.5,"v":-26},{"s":"AC","t":57,"v":-44},{"s":"AC","t":57.5,"v":-58},{"s":"AC","t":58,"v":-70},{"s":"AC","t":58.5,"v":-82},{"s":"AC","t":59,"v":-92},{"s":"AC","t":59.5,"v":-98},{"s":"AC","t":60,"v":-92},{"s":"AC","t":60.5,"v":-78},{"s":"AC","t":61,"v":-58},{"s":"AC","t":61.5,"v":-36},{"s":"AC","t":62,"v":-15},{"s":"AC","t":62.5,"v":3},{"s":"AC","t":63,"v":16},{"s":"AC","t":64,"v":26},{"s":"AC","t":65,"v":32},{"s":"AC","t":66,"v":34},{"s":"AC","t":68,"v":36},{"s":"AC","t":70,"v":38},{"s":"AC","t":72,"v":40},{"s":"AC","t":74,"v":42},{"s":"AC","t":76,"v":44},{"s":"AC","t":78,"v":46},{"s":"AC","t":80,"v":42},{"s":"AC","t":82,"v":48},{"s":"AC","t":84,"v":42},{"s":"AC","t":86,"v":44},{"s":"AC","t":87,"v":52},{"s":"AC","t":88,"v":78},{"s":"AC","t":88.5,"v":102},{"s":"AC","t":89,"v":124},{"s":"AC","t":89.5,"v":132},{"s":"AC","t":90,"v":126},{"s":"AC","t":90.5,"v":96},{"s":"AC","t":91,"v":56},{"s":"AC","t":91.5,"v":22},{"s":"AC","t":92,"v":6},{"s":"AC","t":92.5,"v":4},{"s":"AC","t":93,"v":3},{"s":"AC","t":94,"v":2},{"s":"AC","t":95,"v":1},
{"s":"AD","t":56,"v":0},{"s":"AD","t":56.5,"v":-28},{"s":"AD","t":57,"v":-46},{"s":"AD","t":57.5,"v":-62},{"s":"AD","t":58,"v":-78},{"s":"AD","t":58.5,"v":-92},{"s":"AD","t":59,"v":-100},{"s":"AD","t":59.5,"v":-102},{"s":"AD","t":60,"v":-95},{"s":"AD","t":60.5,"v":-80},{"s":"AD","t":61,"v":-60},{"s":"AD","t":61.5,"v":-38},{"s":"AD","t":62,"v":-16},{"s":"AD","t":62.5,"v":2},{"s":"AD","t":63,"v":16},{"s":"AD","t":64,"v":28},{"s":"AD","t":65,"v":34},{"s":"AD","t":66,"v":36},{"s":"AD","t":68,"v":40},{"s":"AD","t":70,"v":42},{"s":"AD","t":72,"v":44},{"s":"AD","t":74,"v":46},{"s":"AD","t":76,"v":50},{"s":"AD","t":78,"v":55},{"s":"AD","t":80,"v":48},{"s":"AD","t":82,"v":56},{"s":"AD","t":84,"v":46},{"s":"AD","t":86,"v":50},{"s":"AD","t":87,"v":62},{"s":"AD","t":88,"v":95},{"s":"AD","t":88.5,"v":130},{"s":"AD","t":89,"v":160},{"s":"AD","t":89.5,"v":170},{"s":"AD","t":90,"v":160},{"s":"AD","t":90.5,"v":120},{"s":"AD","t":91,"v":70},{"s":"AD","t":91.5,"v":30},{"s":"AD","t":92,"v":8},{"s":"AD","t":92.5,"v":4},{"s":"AD","t":93,"v":3},{"s":"AD","t":94,"v":2},{"s":"AD","t":95,"v":1},
{"s":"AE","t":56,"v":0},{"s":"AE","t":56.5,"v":-24},{"s":"AE","t":57,"v":-40},{"s":"AE","t":57.5,"v":-52},{"s":"AE","t":58,"v":-64},{"s":"AE","t":58.5,"v":-76},{"s":"AE","t":59,"v":-86},{"s":"AE","t":59.5,"v":-90},{"s":"AE","t":60,"v":-84},{"s":"AE","t":60.5,"v":-70},{"s":"AE","t":61,"v":-50},{"s":"AE","t":61.5,"v":-28},{"s":"AE","t":62,"v":-8},{"s":"AE","t":62.5,"v":10},{"s":"AE","t":63,"v":24},{"s":"AE","t":64,"v":40},{"s":"AE","t":65,"v":48},{"s":"AE","t":66,"v":50},{"s":"AE","t":68,"v":52},{"s":"AE","t":70,"v":50},{"s":"AE","t":72,"v":52},{"s":"AE","t":74,"v":55},{"s":"AE","t":76,"v":58},{"s":"AE","t":78,"v":62},{"s":"AE","t":80,"v":56},{"s":"AE","t":82,"v":65},{"s":"AE","t":84,"v":54},{"s":"AE","t":86,"v":55},{"s":"AE","t":87,"v":62},{"s":"AE","t":88,"v":80},{"s":"AE","t":88.5,"v":98},{"s":"AE","t":89,"v":112},{"s":"AE","t":89.5,"v":115},{"s":"AE","t":90,"v":110},{"s":"AE","t":90.5,"v":85},{"s":"AE","t":91,"v":50},{"s":"AE","t":91.5,"v":20},{"s":"AE","t":92,"v":6},{"s":"AE","t":92.5,"v":4},{"s":"AE","t":93,"v":3},{"s":"AE","t":94,"v":2},{"s":"AE","t":95,"v":1},
{"s":"AF","t":56,"v":0},{"s":"AF","t":56.5,"v":-22},{"s":"AF","t":57,"v":-36},{"s":"AF","t":57.5,"v":-46},{"s":"AF","t":58,"v":-55},{"s":"AF","t":58.5,"v":-64},{"s":"AF","t":59,"v":-72},{"s":"AF","t":59.5,"v":-78},{"s":"AF","t":60,"v":-76},{"s":"AF","t":60.5,"v":-68},{"s":"AF","t":61,"v":-56},{"s":"AF","t":61.5,"v":-40},{"s":"AF","t":62,"v":-22},{"s":"AF","t":62.5,"v":-5},{"s":"AF","t":63,"v":10},{"s":"AF","t":64,"v":22},{"s":"AF","t":65,"v":28},{"s":"AF","t":66,"v":30},{"s":"AF","t":68,"v":30},{"s":"AF","t":70,"v":32},{"s":"AF","t":72,"v":32},{"s":"AF","t":74,"v":34},{"s":"AF","t":76,"v":35},{"s":"AF","t":78,"v":36},{"s":"AF","t":80,"v":33},{"s":"AF","t":82,"v":38},{"s":"AF","t":84,"v":33},{"s":"AF","t":86,"v":35},{"s":"AF","t":87,"v":40},{"s":"AF","t":88,"v":58},{"s":"AF","t":88.5,"v":74},{"s":"AF","t":89,"v":86},{"s":"AF","t":89.5,"v":90},{"s":"AF","t":90,"v":86},{"s":"AF","t":90.5,"v":66},{"s":"AF","t":91,"v":38},{"s":"AF","t":91.5,"v":15},{"s":"AF","t":92,"v":5},{"s":"AF","t":92.5,"v":3},{"s":"AF","t":93,"v":2},{"s":"AF","t":94,"v":2},{"s":"AF","t":95,"v":1},
{"s":"AG","t":56,"v":0},{"s":"AG","t":56.5,"v":-20},{"s":"AG","t":57,"v":-32},{"s":"AG","t":57.5,"v":-40},{"s":"AG","t":58,"v":-46},{"s":"AG","t":58.5,"v":-52},{"s":"AG","t":59,"v":-56},{"s":"AG","t":59.5,"v":-58},{"s":"AG","t":60,"v":-54},{"s":"AG","t":60.5,"v":-45},{"s":"AG","t":61,"v":-33},{"s":"AG","t":61.5,"v":-19},{"s":"AG","t":62,"v":-6},{"s":"AG","t":62.5,"v":5},{"s":"AG","t":63,"v":12},{"s":"AG","t":64,"v":16},{"s":"AG","t":65,"v":18},{"s":"AG","t":66,"v":18},{"s":"AG","t":68,"v":20},{"s":"AG","t":70,"v":20},{"s":"AG","t":72,"v":20},{"s":"AG","t":74,"v":22},{"s":"AG","t":76,"v":22},{"s":"AG","t":78,"v":20},{"s":"AG","t":80,"v":18},{"s":"AG","t":82,"v":22},{"s":"AG","t":84,"v":18},{"s":"AG","t":86,"v":20},{"s":"AG","t":87,"v":24},{"s":"AG","t":88,"v":38},{"s":"AG","t":88.5,"v":52},{"s":"AG","t":89,"v":66},{"s":"AG","t":89.5,"v":75},{"s":"AG","t":90,"v":72},{"s":"AG","t":90.5,"v":56},{"s":"AG","t":91,"v":32},{"s":"AG","t":91.5,"v":12},{"s":"AG","t":92,"v":4},{"s":"AG","t":92.5,"v":3},{"s":"AG","t":93,"v":2},{"s":"AG","t":94,"v":2},{"s":"AG","t":95,"v":1},
{"s":"AH","t":56,"v":0},{"s":"AH","t":56.5,"v":-24},{"s":"AH","t":57,"v":-40},{"s":"AH","t":57.5,"v":-52},{"s":"AH","t":58,"v":-62},{"s":"AH","t":58.5,"v":-74},{"s":"AH","t":59,"v":-84},{"s":"AH","t":59.5,"v":-88},{"s":"AH","t":60,"v":-82},{"s":"AH","t":60.5,"v":-68},{"s":"AH","t":61,"v":-50},{"s":"AH","t":61.5,"v":-30},{"s":"AH","t":62,"v":-12},{"s":"AH","t":62.5,"v":4},{"s":"AH","t":63,"v":16},{"s":"AH","t":64,"v":26},{"s":"AH","t":65,"v":32},{"s":"AH","t":66,"v":34},{"s":"AH","t":68,"v":36},{"s":"AH","t":70,"v":38},{"s":"AH","t":72,"v":40},{"s":"AH","t":74,"v":42},{"s":"AH","t":76,"v":44},{"s":"AH","t":78,"v":46},{"s":"AH","t":80,"v":42},{"s":"AH","t":82,"v":48},{"s":"AH","t":84,"v":42},{"s":"AH","t":86,"v":45},{"s":"AH","t":87,"v":52},{"s":"AH","t":88,"v":80},{"s":"AH","t":88.5,"v":115},{"s":"AH","t":89,"v":150},{"s":"AH","t":89.5,"v":168},{"s":"AH","t":90,"v":170},{"s":"AH","t":90.5,"v":135},{"s":"AH","t":91,"v":85},{"s":"AH","t":91.5,"v":38},{"s":"AH","t":92,"v":10},{"s":"AH","t":92.5,"v":4},{"s":"AH","t":93,"v":3},{"s":"AH","t":94,"v":2},{"s":"AH","t":95,"v":1},
{"s":"AI","t":56,"v":0},{"s":"AI","t":56.5,"v":-26},{"s":"AI","t":57,"v":-44},{"s":"AI","t":57.5,"v":-60},{"s":"AI","t":58,"v":-76},{"s":"AI","t":58.5,"v":-90},{"s":"AI","t":59,"v":-100},{"s":"AI","t":59.5,"v":-104},{"s":"AI","t":60,"v":-96},{"s":"AI","t":60.5,"v":-80},{"s":"AI","t":61,"v":-58},{"s":"AI","t":61.5,"v":-34},{"s":"AI","t":62,"v":-12},{"s":"AI","t":62.5,"v":6},{"s":"AI","t":63,"v":20},{"s":"AI","t":64,"v":32},{"s":"AI","t":65,"v":38},{"s":"AI","t":66,"v":40},{"s":"AI","t":68,"v":42},{"s":"AI","t":70,"v":44},{"s":"AI","t":72,"v":46},{"s":"AI","t":74,"v":48},{"s":"AI","t":76,"v":50},{"s":"AI","t":78,"v":54},{"s":"AI","t":80,"v":48},{"s":"AI","t":82,"v":56},{"s":"AI","t":84,"v":48},{"s":"AI","t":86,"v":50},{"s":"AI","t":87,"v":56},{"s":"AI","t":88,"v":82},{"s":"AI","t":88.5,"v":112},{"s":"AI","t":89,"v":150},{"s":"AI","t":89.5,"v":195},{"s":"AI","t":90,"v":235},{"s":"AI","t":90.5,"v":240},{"s":"AI","t":91,"v":185},{"s":"AI","t":91.5,"v":105},{"s":"AI","t":92,"v":38},{"s":"AI","t":92.5,"v":8},{"s":"AI","t":93,"v":5},{"s":"AI","t":94,"v":4},{"s":"AI","t":95,"v":3},
{"s":"AJ","t":56,"v":0},{"s":"AJ","t":56.5,"v":-18},{"s":"AJ","t":57,"v":-28},{"s":"AJ","t":57.5,"v":-34},{"s":"AJ","t":58,"v":-40},{"s":"AJ","t":58.5,"v":-44},{"s":"AJ","t":59,"v":-48},{"s":"AJ","t":59.5,"v":-52},{"s":"AJ","t":60,"v":-50},{"s":"AJ","t":60.5,"v":-44},{"s":"AJ","t":61,"v":-36},{"s":"AJ","t":61.5,"v":-26},{"s":"AJ","t":62,"v":-14},{"s":"AJ","t":62.5,"v":-2},{"s":"AJ","t":63,"v":8},{"s":"AJ","t":64,"v":16},{"s":"AJ","t":65,"v":20},{"s":"AJ","t":66,"v":20},{"s":"AJ","t":68,"v":22},{"s":"AJ","t":70,"v":22},{"s":"AJ","t":72,"v":24},{"s":"AJ","t":74,"v":24},{"s":"AJ","t":76,"v":24},{"s":"AJ","t":78,"v":22},{"s":"AJ","t":80,"v":20},{"s":"AJ","t":82,"v":24},{"s":"AJ","t":84,"v":20},{"s":"AJ","t":86,"v":22},{"s":"AJ","t":87,"v":26},{"s":"AJ","t":88,"v":48},{"s":"AJ","t":88.5,"v":68},{"s":"AJ","t":89,"v":86},{"s":"AJ","t":89.5,"v":95},{"s":"AJ","t":90,"v":92},{"s":"AJ","t":90.5,"v":72},{"s":"AJ","t":91,"v":42},{"s":"AJ","t":91.5,"v":16},{"s":"AJ","t":92,"v":5},{"s":"AJ","t":92.5,"v":3},{"s":"AJ","t":93,"v":2},{"s":"AJ","t":94,"v":2},{"s":"AJ","t":95,"v":1},
{"s":"F1","t":56,"v":0},{"s":"F1","t":57,"v":-3},{"s":"F1","t":58,"v":-4},{"s":"F1","t":59,"v":-3},{"s":"F1","t":60,"v":-3},{"s":"F1","t":62,"v":-2},{"s":"F1","t":65,"v":-3},{"s":"F1","t":70,"v":-2},{"s":"F1","t":74,"v":-4},{"s":"F1","t":78,"v":-2},{"s":"F1","t":80,"v":-4},{"s":"F1","t":84,"v":-3},{"s":"F1","t":86,"v":-3},{"s":"F1","t":88,"v":-6},{"s":"F1","t":89,"v":-4},{"s":"F1","t":90,"v":-6},{"s":"F1","t":91,"v":-4},{"s":"F1","t":92,"v":-3},{"s":"F1","t":94,"v":-6},{"s":"F1","t":95,"v":-4},
{"s":"F2","t":56,"v":0},{"s":"F2","t":58,"v":2},{"s":"F2","t":59,"v":2},{"s":"F2","t":62,"v":-3},{"s":"F2","t":65,"v":-4},{"s":"F2","t":70,"v":-3},{"s":"F2","t":74,"v":-6},{"s":"F2","t":77,"v":-7},{"s":"F2","t":78,"v":-10},{"s":"F2","t":79,"v":-8},{"s":"F2","t":80,"v":-5},{"s":"F2","t":82,"v":-8},{"s":"F2","t":84,"v":-4},{"s":"F2","t":86,"v":-4},{"s":"F2","t":88,"v":-5},{"s":"F2","t":89,"v":-10},{"s":"F2","t":90,"v":-12},{"s":"F2","t":91,"v":-8},{"s":"F2","t":92,"v":-3},{"s":"F2","t":94,"v":-2},{"s":"F2","t":95,"v":-2},
{"s":"F3","t":56,"v":0},{"s":"F3","t":58,"v":-3},{"s":"F3","t":60,"v":-2},{"s":"F3","t":64,"v":-2},{"s":"F3","t":70,"v":-3},{"s":"F3","t":76,"v":-2},{"s":"F3","t":82,"v":-3},{"s":"F3","t":86,"v":-2},{"s":"F3","t":88,"v":-4},{"s":"F3","t":90,"v":-3},{"s":"F3","t":92,"v":-2},{"s":"F3","t":94,"v":-4},{"s":"F3","t":95,"v":-3}
]},
"layer": [
 {"data": {"name": "curves"},
  "mark": {"type": "line", "strokeWidth": 1.3, "clip": true},
  "encoding": {
   "x": {"field": "t", "type": "quantitative", "scale": {"domain": [54, 98], "nice": false, "zero": false},
    "axis": {"title": "Temperature, Celsius", "values": [54,55,56,57,58,59,60,61,62,63,64,65,66,67,68,69,70,71,72,73,74,75,76,77,78,79,80,81,82,83,84,85,86,87,88,89,90,91,92,93,94,95,96,97,98],
     "labelExpr": "datum.value % 2 === 0 ? '' + datum.value : ''", "labelPadding": 15, "titlePadding": 16}},
   "y": {"field": "v", "type": "quantitative", "scale": {"domain": [-200, 350], "nice": false, "zero": false},
    "axis": {"title": "- d(RFU) / dT", "values": [-200,-175,-150,-125,-100,-75,-50,-25,0,25,50,75,100,125,150,175,200,225,250,275,300,325,350],
     "labelExpr": "datum.value % 50 === 0 ? '' + datum.value : ''", "labelPadding": 5, "titlePadding": 12}},
   "color": {"field": "s", "type": "nominal", "legend": null,
    "scale": {"domain": ["F1","F2","F3","A","B","C","D","E","F","G","H","I","J","K","L","M","N","O","P","Q","R","S","T","U","V","W","X","Y","Z","AA","AB","AC","AD","AE","AF","AG","AH","AI","AJ"],
     "range": ["#FF00FF","#40C0D0","#000080","#8000FF","#0000FF","#00C000","#800000","#000080","#FF0000","#00FF00","#FFFF00","#00C8C8","#0000FF","#FF0000","#008000","#008000","#8000FF","#800000","#0000FF","#FF0000","#00FF00","#000080","#800000","#FFFF00","#00C000","#FF0000","#0000FF","#00C000","#00FF00","#0000FF","#FF0000","#008000","#800000","#8000FF","#00FF00","#FF0000","#00C8C8","#000080","#FFFF00"]}}
  }},
 {"data": {"values": [{}]}, "mark": {"type": "rule", "color": "#0000FF", "strokeWidth": 4},
  "encoding": {"y": {"datum": 0, "type": "quantitative",
    "axis": {"title": "- d(RFU) / dT", "values": [-200,-175,-150,-125,-100,-75,-50,-25,0,25,50,75,100,125,150,175,200,225,250,275,300,325,350],
     "labelExpr": "datum.value % 50 === 0 ? '' + datum.value : ''", "labelPadding": 5, "titlePadding": 12}}}},
 {"data": {"values": [{}]}, "mark": {"type": "rule", "color": "#FF8000", "strokeWidth": 3},
  "encoding": {"x": {"datum": 58.4, "type": "quantitative",
    "axis": {"title": "Temperature, Celsius", "values": [54,55,56,57,58,59,60,61,62,63,64,65,66,67,68,69,70,71,72,73,74,75,76,77,78,79,80,81,82,83,84,85,86,87,88,89,90,91,92,93,94,95,96,97,98],
     "labelExpr": "datum.value % 2 === 0 ? '' + datum.value : ''", "labelPadding": 15, "titlePadding": 16}}}}
]
}
